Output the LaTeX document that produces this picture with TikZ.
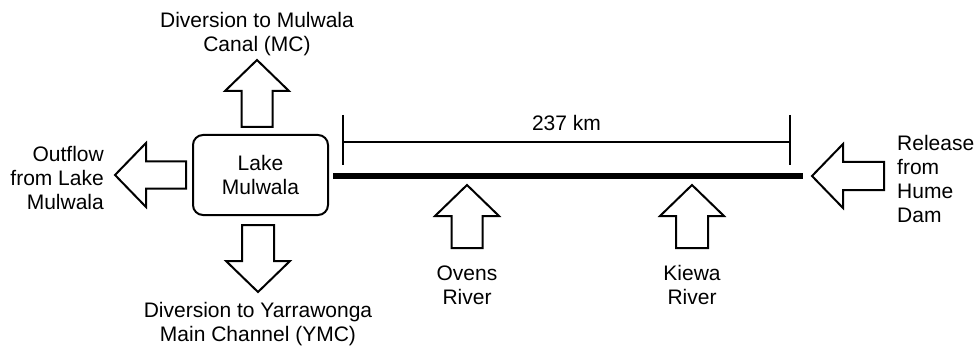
\documentclass[tikz,border=0pt]{standalone}
\usepackage{fontspec}
\setmainfont{Liberation Sans}
\begin{document}
\begin{tikzpicture}[x=1pt,y=1pt,
  lbl/.style={inner sep=0pt,font=\fontsize{21}{24}\selectfont},
  outl/.style={draw=black,line width=2pt,fill=white,line join=miter},
  pics/blockarr/.style 2 args={code={
    \draw[outl] (0,0) -- (32,-31) -- (#2,-31) -- (#2,-#1) -- (-#2,-#1) -- (-#2,-31) -- (-32,-31) -- cycle;}}]
\useasboundingbox (0,0) rectangle (975,346);
% lake box
\node[draw,line width=2pt,rounded corners=10pt,minimum width=135pt,minimum height=80pt,inner sep=0pt] (lake) at (260.5,171) {};
\node[lbl,align=center] (lakelbl) at (lake.center) {Lake\\Mulwala};
% river line
\coordinate (rs) at (333,170);
\coordinate (re) at (803,170);
\draw[line width=5pt] (rs) -- (re);
% distance bracket
\coordinate (bl1) at (343,231); \coordinate (bl2) at (343,181);
\coordinate (br1) at (790,231); \coordinate (br2) at (790,181);
\coordinate (bml) at (343,204); \coordinate (bmr) at (790,204);
\draw[line width=1.6pt] (bl1) -- (bl2) (br1) -- (br2) (bml) -- (bmr);
\node[lbl] (dist) at (566.5,223) {237 km};
% block arrows
\pic at (257,286) {blockarr={67}{15.5}};
\pic[rotate=180] at (258,54) {blockarr={67}{16}};
\pic[rotate=90] at (115,171) {blockarr={71}{13.5}};
\pic at (467,161) {blockarr={63}{15.5}};
\pic at (692,161) {blockarr={63}{16}};
\pic[rotate=90] at (812,170) {blockarr={72}{14}};
% labels
\node[lbl,align=center] (mc) at (257,312) {Diversion to Mulwala\\Canal (MC)};
\node[lbl,align=center] (ymc) at (258,22) {Diversion to Yarrawonga\\Main Channel (YMC)};
\node[lbl,align=right,anchor=east] (out) at (104,168) {Outflow\\from Lake\\Mulwala};
\node[lbl,align=center] (ovens) at (467,61) {Ovens\\River};
\node[lbl,align=center] (kiewa) at (692,61) {Kiewa\\River};
\node[lbl,align=left,anchor=west] (hume) at (897,167.5) {Release\\from\\Hume\\Dam};
\end{tikzpicture}
\end{document}
